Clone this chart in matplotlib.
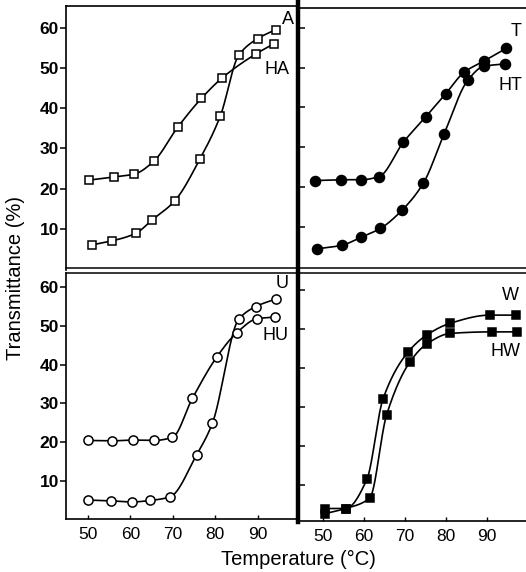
import numpy as np
import matplotlib
matplotlib.use("Agg")
import matplotlib.pyplot as plt
from matplotlib.lines import Line2D

plt.rcParams['font.family'] = ['Liberation Sans', 'DejaVu Sans']

# ---- Data ----
# Top-left: A / HA (open squares)
A_t = [51.0, 55.7, 61.3, 65.1, 70.4, 76.4, 81.2, 85.5, 90.0, 94.2]
A_v = [6.0, 7.0, 8.9, 12.2, 16.9, 27.4, 38.1, 53.1, 57.3, 59.5]
HA_t = [50.2, 56.1, 60.9, 65.5, 71.1, 76.7, 81.6, 89.6, 93.8]
HA_v = [22.1, 22.9, 23.6, 26.8, 35.2, 42.4, 47.5, 53.5, 56.0]

# Top-right: T / HT (filled circles)
T_t = [48.1, 54.4, 59.3, 63.7, 69.6, 75.0, 79.9, 84.4, 89.2, 94.7]
T_v = [21.7, 21.9, 21.9, 22.7, 31.3, 37.6, 43.4, 48.8, 51.6, 54.8]
HT_t = [48.5, 54.6, 59.3, 64.0, 69.2, 74.5, 79.5, 85.3, 89.2, 94.4]
HT_v = [4.6, 5.5, 7.5, 9.7, 14.2, 21.1, 33.3, 46.8, 50.3, 50.9]

# Bottom-left: U / HU (open circles)
U_t = [50.1, 55.3, 60.3, 64.7, 69.3, 75.6, 79.3, 85.5, 89.5, 94.3]
U_v = [5.0, 4.8, 4.5, 4.9, 5.8, 16.7, 24.8, 51.7, 55.0, 57.0]
HU_t = [50.1, 55.6, 60.5, 65.5, 69.9, 74.6, 80.3, 85.1, 89.9, 94.1]
HU_v = [20.4, 20.3, 20.5, 20.4, 21.2, 31.3, 41.9, 48.3, 51.9, 52.3]

# Bottom-right: W / HW (filled squares)
W_t = [50.5, 55.5, 60.7, 64.6, 70.8, 75.3, 81.0, 90.7, 97.1]
W_v = [4.0, 4.0, 11.5, 32.0, 44.2, 48.5, 51.5, 53.6, 53.6]
HW_t = [50.5, 55.5, 61.4, 65.5, 71.2, 75.3, 81.0, 91.1, 97.4]
HW_v = [2.7, 4.0, 6.7, 28.0, 41.6, 46.2, 48.9, 49.3, 49.3]

y_ticks = [10, 20, 30, 40, 50, 60]
x_ticks = [50, 60, 70, 80, 90]


def smooth(x, y, n=30):
    """Monotone cubic (Fritsch-Carlson) curve through the points."""
    x = np.asarray(x, float)
    y = np.asarray(y, float)
    h = np.diff(x)
    d = np.diff(y) / h
    m = np.zeros_like(y)
    m[0], m[-1] = d[0], d[-1]
    for i in range(1, len(x) - 1):
        if d[i - 1] * d[i] <= 0:
            m[i] = 0
        else:
            w1 = 2 * h[i] + h[i - 1]
            w2 = h[i] + 2 * h[i - 1]
            m[i] = (w1 + w2) / (w1 / d[i - 1] + w2 / d[i])
    xs, ys = [], []
    for i in range(len(x) - 1):
        t = np.linspace(0, 1, n)
        h00 = 2 * t**3 - 3 * t**2 + 1
        h10 = t**3 - 2 * t**2 + t
        h01 = -2 * t**3 + 3 * t**2
        h11 = t**3 - t**2
        xs.append(x[i] + t * h[i])
        ys.append(h00 * y[i] + h10 * h[i] * m[i] + h01 * y[i + 1] + h11 * h[i] * m[i + 1])
    return np.concatenate(xs), np.concatenate(ys)


W, H = 526, 572
fig = plt.figure(figsize=(W / 100, H / 100), dpi=100)


def fx(px):
    return px / W


def fy(py):
    return 1 - py / H


ax_tl = fig.add_axes([fx(66), fy(270), fx(298) - fx(66), fy(6) - fy(270)])
ax_tr = fig.add_axes([fx(298), fy(270), fx(526) - fx(298), fy(8) - fy(270)])
ax_bl = fig.add_axes([fx(66), fy(519), fx(298) - fx(66), fy(273) - fy(519)])
ax_br = fig.add_axes([fx(298), fy(521), fx(526) - fx(298), fy(273) - fy(521)])

lw = 1.2
tick_fs = 12.5

def draw(ax, t, v, marker, filled, ms):
    sx, sy = smooth(t, v)
    ax.plot(sx, sy, color='black', lw=lw, zorder=2)
    ax.plot(t, v, linestyle='none', marker=marker, ms=ms,
            mfc='black' if filled else 'white', mec='black', mew=1.1, zorder=3)

draw(ax_tl, A_t, A_v, 's', False, 5.4)
draw(ax_tl, HA_t, HA_v, 's', False, 5.4)
draw(ax_tr, T_t, T_v, 'o', True, 7.2)
draw(ax_tr, HT_t, HT_v, 'o', True, 7.2)
draw(ax_bl, U_t, U_v, 'o', False, 6.6)
draw(ax_bl, HU_t, HU_v, 'o', False, 6.6)
draw(ax_br, W_t, W_v, 's', True, 5.2)
draw(ax_br, HW_t, HW_v, 's', True, 5.2)

# limits
ax_tl.set_xlim(44.8, 99.5)
ax_bl.set_xlim(44.8, 99.5)
ax_tr.set_xlim(43.9, 99.5)
ax_br.set_xlim(43.9, 99.5)
ax_tl.set_ylim(-0.25, 65.4)
ax_tr.set_ylim(-0.7, 64.9)
ax_bl.set_ylim(0.1, 63.7)
ax_br.set_ylim(0.8, 64.4)

for ax in (ax_tl, ax_tr, ax_bl, ax_br):
    ax.set_yticks(y_ticks)
    ax.set_xticks(x_ticks)
    ax.patch.set_alpha(0)
    for s in ax.spines.values():
        s.set_linewidth(1.2)

# top panels: no x ticks
for ax in (ax_tl, ax_tr):
    ax.tick_params(axis='x', bottom=False, labelbottom=False)
    ax.spines['bottom'].set_visible(False)
# right panels: inward y ticks without labels
for ax in (ax_tr, ax_br):
    ax.tick_params(axis='y', direction='in', length=5, width=1.1, labelleft=False)
    ax.spines['right'].set_visible(False)
    ax.spines['left'].set_visible(False)
ax_br.spines['top'].set_visible(False)
ax_bl.spines['top'].set_visible(False)
ax_tl.spines['right'].set_visible(False)
ax_bl.spines['right'].set_visible(False)

# left panels: outward y ticks with labels
for ax in (ax_tl, ax_bl):
    ax.tick_params(axis='y', direction='out', length=4, width=1.1, pad=1,
                   labelsize=tick_fs)
    for lab in ax.get_yticklabels():
        lab.set_fontweight('bold')
# bottom panels: inward x ticks with labels
for ax in (ax_bl, ax_br):
    ax.tick_params(axis='x', direction='in', length=3, width=1.0, pad=6,
                   labelsize=tick_fs)

# curve labels
lab_fs = 13
fig.text(fx(288), fy(19), 'A', fontsize=lab_fs, ha='center', va='center')
fig.text(fx(277), fy(69), 'HA', fontsize=lab_fs, ha='center', va='center')
fig.text(fx(516), fy(31), 'T', fontsize=lab_fs, ha='center', va='center')
fig.text(fx(510), fy(86), 'HT', fontsize=lab_fs, ha='center', va='center')
fig.text(fx(282), fy(283), 'U', fontsize=lab_fs, ha='center', va='center')
fig.text(fx(275), fy(336), 'HU', fontsize=lab_fs, ha='center', va='center')
fig.text(fx(510), fy(296), 'W', fontsize=lab_fs, ha='center', va='center')
fig.text(fx(505), fy(351), 'HW', fontsize=lab_fs, ha='center', va='center')

# axis titles
fig.text(fx(16), fy(278), 'Transmittance (%)', rotation=90, fontsize=14.5,
         ha='center', va='center')
fig.text(fx(298), fy(559), 'Temperature (°C)', fontsize=14.5,
         ha='center', va='center')

# heavy vertical divider and double horizontal line
fig.add_artist(Line2D([fx(298), fx(298)], [fy(0), fy(522)], color='black', lw=3.2))
fig.add_artist(Line2D([fx(66), fx(526)], [fy(268), fy(268)], color='black', lw=1.1))
fig.add_artist(Line2D([fx(66), fx(526)], [fy(273), fy(273)], color='black', lw=1.1))

fig.savefig('out.png', dpi=100)
